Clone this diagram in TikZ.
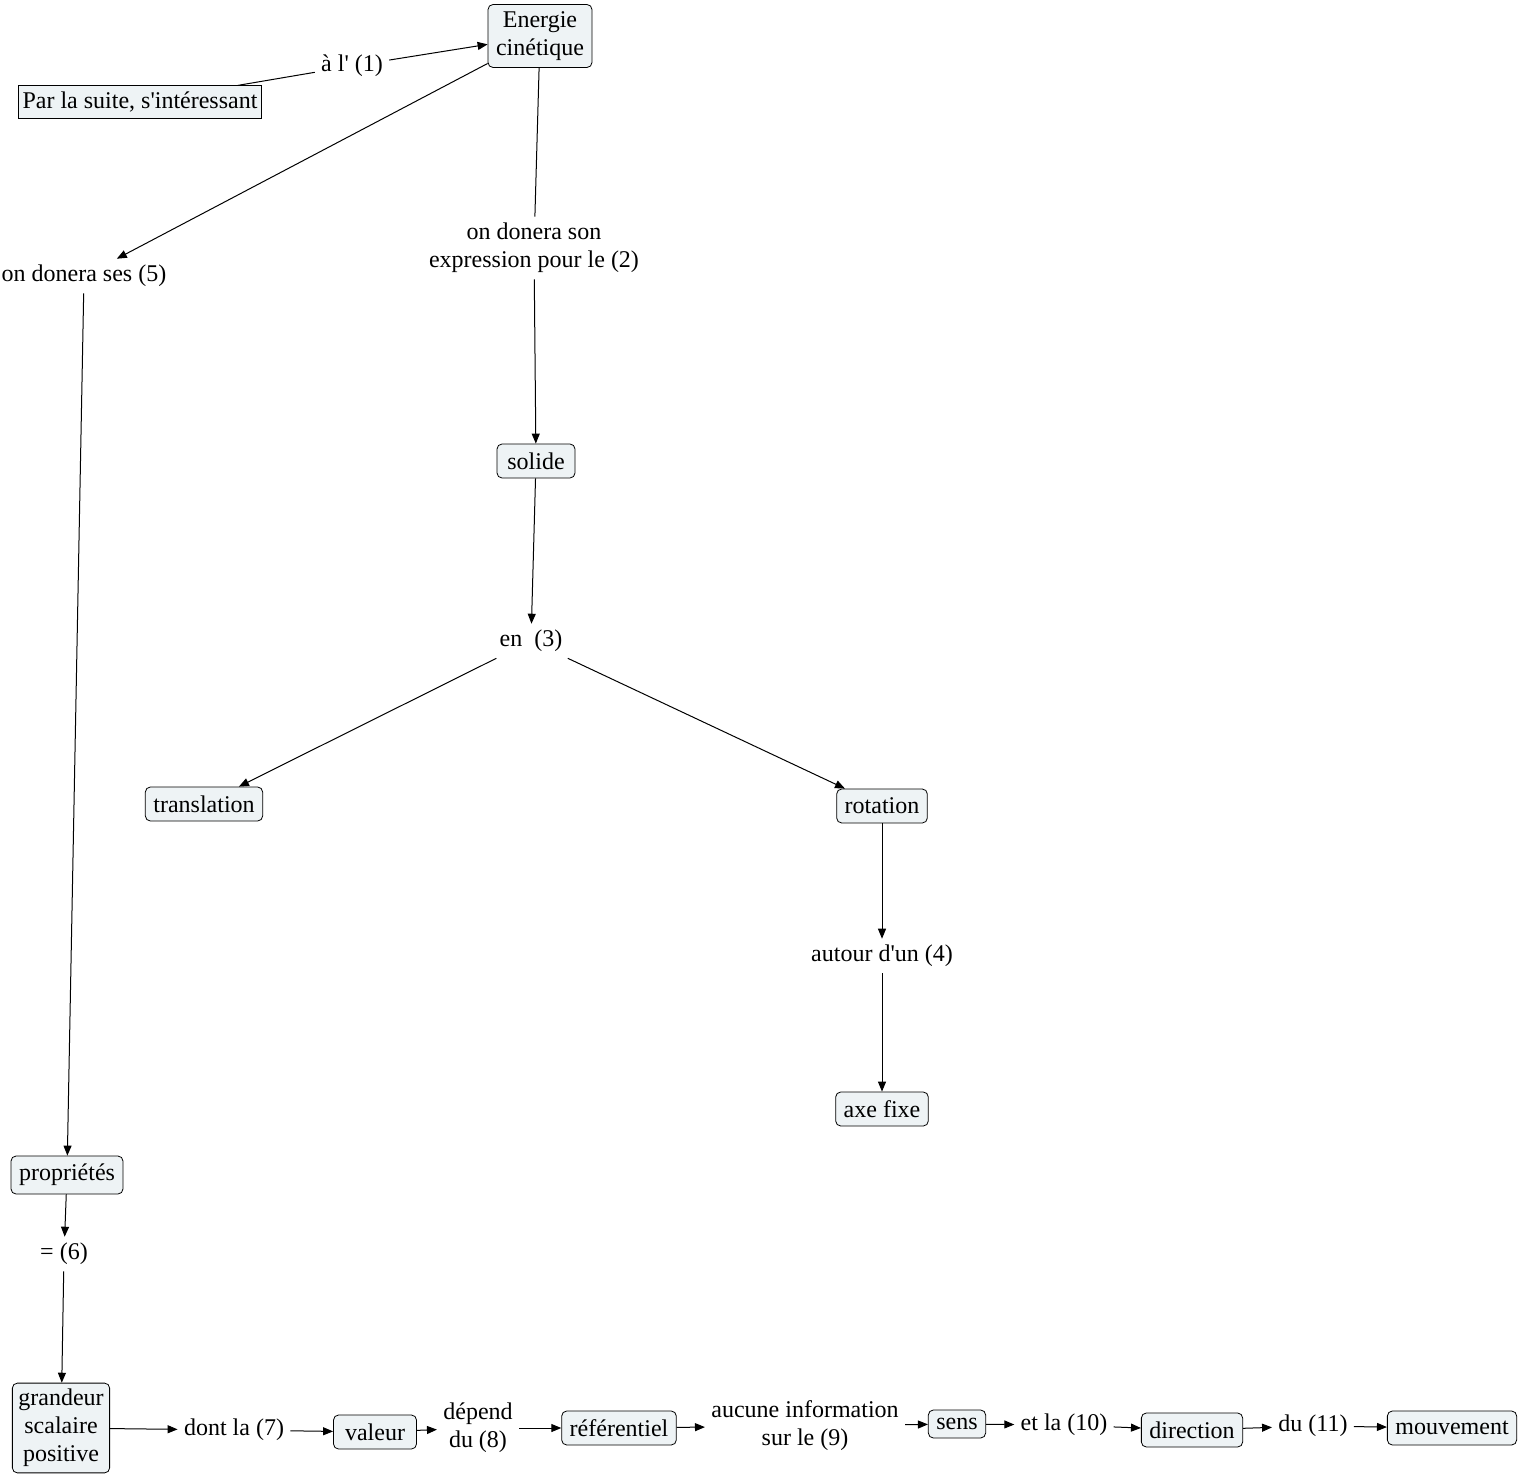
\documentclass[tikz,border=0pt]{standalone}
\usepackage{fontspec}
\setmainfont{Liberation Serif}
\usetikzlibrary{arrows.meta}
\definecolor{boxfill}{RGB}{238,243,245}
\newcommand{\ap}{\textquotesingle}

\begin{document}
\begin{tikzpicture}[
    x=0.5pt, y=-0.5pt,
    every node/.style = {font=\fontsize{12}{14}\selectfont},
    box/.style = {rectangle, draw, rounded corners=2.5pt, align=center, fill=boxfill, inner xsep=4pt, inner ysep=3pt, minimum height=17pt},
    sqbox/.style = {box, rounded corners=0pt, inner xsep=2pt, minimum height=15.5pt},
    lbl/.style = {align=center, inner sep=3pt},
    arrow/.style = {-{Triangle[length=5pt,width=4pt]}, line width=0.5pt},
    link/.style = {line width=0.5pt}
]
    \useasboundingbox (0,0) rectangle (1520,1476);

    \node[box, inner ysep=3.5pt] (EC) at (540,36) {Energie\\cinétique};
    \node[sqbox] (PLS) at (140,102) {Par la suite, s\ap int\'eressant};
    \node[lbl] (L1) at (352,66) {à l\ap{} (1)};
    \node[lbl] (L5) at (84,276) {on donera ses (5)};
    \node[lbl] (L2) at (534,248) {on donera son\\expression pour le (2)};
    \node[box, minimum width=39pt] (SOL) at (536,461) {solide};
    \node[lbl] (L3) at (531,641) {en~~(3)};
    \node[box] (TRA) at (204,804) {translation};
    \node[box] (ROT) at (882,806) {rotation};
    \node[lbl] (L4) at (882,956) {autour d\ap un (4)};
    \node[box] (AXE) at (882,1109) {axe fixe};

    \node[box, minimum height=19pt] (PRO) at (67,1175) {propriétés};
    \node[lbl] (L6) at (64,1254) {= (6)};
    \node[box, inner xsep=3pt] (GSP) at (61,1428) {grandeur\\scalaire\\positive};
    \node[lbl] (L7) at (234,1430) {dont la (7)};
    \node[box, minimum width=41.5pt] (VAL) at (375,1432) {valeur};
    \node[lbl] (L8) at (478,1428) {dépend\\du (8)};
    \node[box] (REF) at (619,1428) {référentiel};
    \node[lbl] (L9) at (805,1426) {aucune information\\sur le (9)};
    \node[box, minimum height=14pt, inner ysep=1pt] (SEN) at (957,1424) {sens};
    \node[lbl] (L10) at (1064,1425) {et la (10)};
    \node[box] (DIR) at (1192,1430) {direction};
    \node[lbl] (L11) at (1313,1426) {du (11)};
    \node[box] (MOU) at (1452,1428) {mouvement};

    \draw[link] (PLS) -- (L1);
    \draw[arrow] (L1) -- (EC);
    \draw[arrow] (EC) -- (L5);
    \draw[link] (EC) -- (L2);
    \draw[arrow] (L2) -- (SOL);
    \draw[arrow] (SOL) -- (L3);
    \draw[arrow] (L3) -- (TRA);
    \draw[arrow] (L3) -- (ROT);
    \draw[arrow] (ROT) -- (L4);
    \draw[arrow] (L4) -- (AXE);

    \draw[arrow] (L5) -- (PRO);
    \draw[arrow] (PRO) -- (L6);
    \draw[arrow] (L6) -- (GSP);
    \draw[arrow] (GSP) -- (L7);
    \draw[arrow] (L7) -- (VAL);
    \draw[arrow] (VAL) -- (L8);
    \draw[arrow] (L8) -- (REF);
    \draw[arrow] (REF) -- (L9);
    \draw[arrow] (L9) -- (SEN);
    \draw[arrow] (SEN) -- (L10);
    \draw[arrow] (L10) -- (DIR);
    \draw[arrow] (DIR) -- (L11);
    \draw[arrow] (L11) -- (MOU);
\end{tikzpicture}
\end{document}
